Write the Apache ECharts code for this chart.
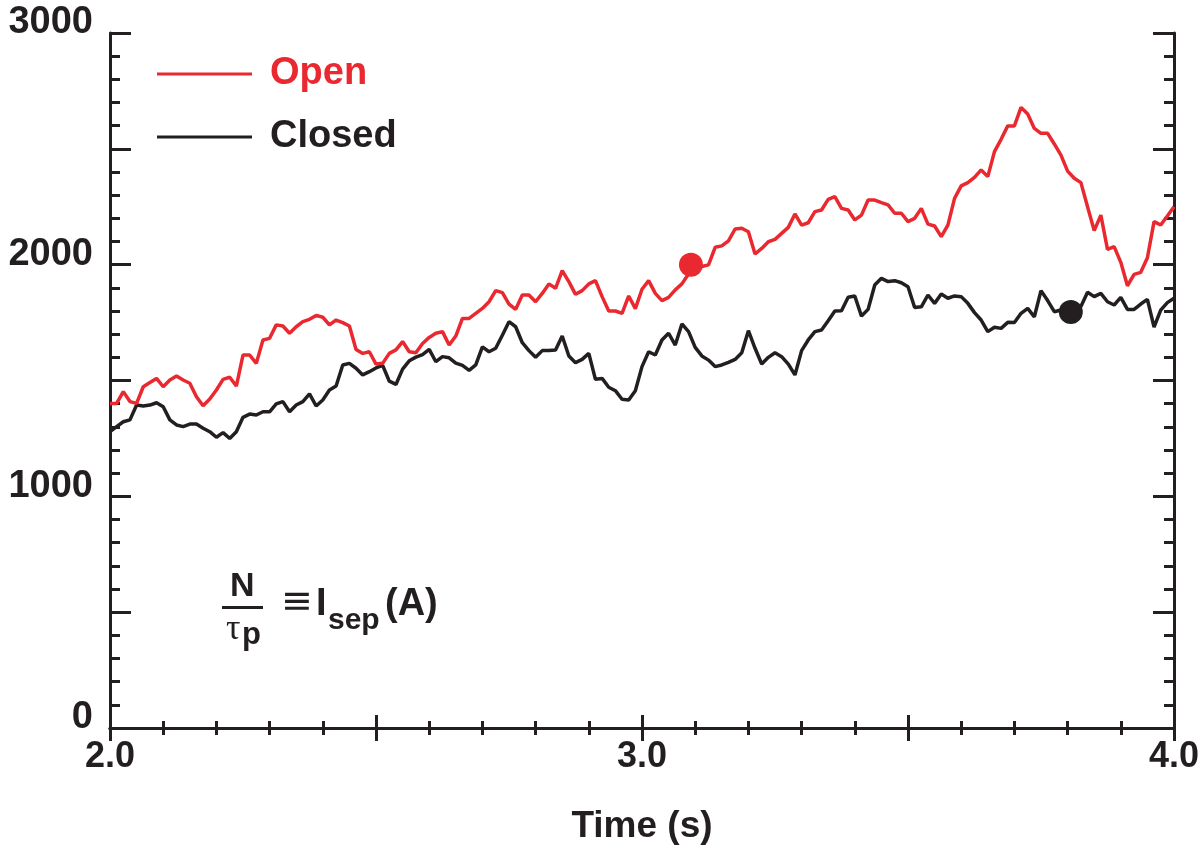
<!DOCTYPE html>
<html>
<head>
<meta charset="utf-8">
<script src="https://cdn.jsdelivr.net/npm/echarts@6/dist/echarts.min.js"></script>
<style>
  html, body { margin: 0; padding: 0; background: #ffffff; }
  #chart { width: 1198px; height: 847px; }
</style>
</head>
<body>
<div id="chart"></div>
<script>
// ---- data ----
const startTime = 2.0;      // s
const sampleStep = 0.0125;  // s between samples
const openValues = [
  1401, 1401, 1452, 1409, 1401, 1473, 1491, 1509, 1473, 1502, 1519, 1502, 1488, 1430, 1391, 1420, 1459, 1505, 1514, 1476,
  1610, 1610, 1574, 1675, 1682, 1740, 1735, 1704, 1732, 1754, 1764, 1781, 1773, 1740, 1761, 1750, 1735, 1634, 1617, 1624,
  1571, 1574, 1617, 1632, 1668, 1624, 1620, 1660, 1686, 1704, 1711, 1653, 1692, 1768, 1768, 1790, 1811, 1840, 1888, 1879,
  1830, 1807, 1869, 1869, 1840, 1876, 1917, 1898, 1974, 1927, 1872, 1888, 1917, 1931, 1862, 1800, 1800, 1790, 1865, 1810,
  1894, 1931, 1876, 1845, 1859, 1891, 1917, 1960, 1995, 1992, 1999, 2075, 2081, 2103, 2154, 2157, 2142, 2046, 2070, 2099,
  2109, 2135, 2161, 2219, 2171, 2181, 2229, 2236, 2282, 2294, 2243, 2236, 2193, 2214, 2279, 2279, 2268, 2258, 2222, 2222,
  2186, 2200, 2243, 2175, 2167, 2121, 2171, 2286, 2340, 2354, 2377, 2409, 2380, 2488, 2541, 2599, 2599, 2679, 2650, 2588,
  2567, 2567, 2521, 2473, 2404, 2373, 2354, 2250, 2147, 2214, 2066, 2078, 2010, 1909, 1958, 1967, 2030, 2186, 2171, 2210,
  2250
];
const closedValues = [
  1279, 1301, 1322, 1330, 1394, 1390, 1394, 1404, 1387, 1330, 1308, 1301, 1312, 1312, 1294, 1279, 1255, 1275, 1250, 1279,
  1341, 1355, 1351, 1365, 1365, 1399, 1409, 1365, 1394, 1409, 1442, 1390, 1416, 1459, 1476, 1567, 1574, 1553, 1524, 1538,
  1554, 1565, 1497, 1483, 1549, 1585, 1601, 1612, 1634, 1581, 1603, 1598, 1575, 1565, 1544, 1567, 1645, 1624, 1639, 1695,
  1754, 1732, 1663, 1629, 1600, 1629, 1629, 1632, 1692, 1606, 1577, 1591, 1617, 1505, 1509, 1471, 1456, 1419, 1416, 1456,
  1560, 1624, 1610, 1675, 1704, 1653, 1744, 1711, 1643, 1606, 1588, 1560, 1567, 1578, 1591, 1620, 1715, 1639, 1571, 1600,
  1620, 1603, 1571, 1524, 1629, 1675, 1711, 1718, 1758, 1800, 1801, 1859, 1865, 1778, 1807, 1912, 1941, 1927, 1931, 1922,
  1905, 1815, 1818, 1869, 1833, 1873, 1855, 1865, 1862, 1833, 1793, 1761, 1711, 1730, 1725, 1751, 1750, 1790, 1811, 1775,
  1888, 1845, 1797, 1804, 1797, 1804, 1819, 1881, 1862, 1876, 1840, 1826, 1859, 1807, 1807, 1830, 1850, 1730, 1804, 1836,
  1855
];
const openMarker = [[3.092, 2000]];
const closedMarker = [[3.806, 1796]];
const seriesNames = ['Open', 'Closed'];
const xTickLabels = ['2.0', '3.0', '4.0'];
const yTickLabels = ['0', '1000', '2000', '3000'];

// ---- style ----
const RED = '#EA2830';
const BLACK = '#231F20';
const FONT = '"Liberation Sans", Arial, sans-serif';

function pairs(values) {
  return values.map((v, i) => [startTime + i * sampleStep, v]);
}

const chart = echarts.init(document.getElementById('chart'), null, { renderer: 'canvas' });

const axisLineStyle = { show: true, lineStyle: { color: BLACK, width: 3 } };

function xAxisCfg(pos, showLabel) {
  return {
    type: 'value', position: pos, min: 2, max: 4, interval: 0.5,
    axisLine: axisLineStyle,
    axisTick: { show: true, inside: true, length: 13, lineStyle: { color: BLACK, width: 3 } },
    minorTick: { show: true, splitNumber: 5, length: 7, lineStyle: { color: BLACK, width: 3 } },
    splitLine: { show: false },
    axisLabel: {
      show: showLabel, margin: 11,
      color: BLACK, fontFamily: FONT, fontWeight: 'bold', fontSize: 36,
      formatter: function (v) {
        const s = v.toFixed(1);
        return xTickLabels.indexOf(s) >= 0 ? s : '';
      }
    },
    name: showLabel ? 'Time (s)' : '',
    nameLocation: 'middle', nameGap: 80,
    nameTextStyle: { color: BLACK, fontFamily: FONT, fontWeight: 'bold', fontSize: 37 }
  };
}
function yAxisCfg(pos, showLabel) {
  return {
    type: 'value', position: pos, min: 0, max: 3000, interval: 500,
    axisLine: axisLineStyle,
    axisTick: { show: true, inside: true, length: 21, lineStyle: { color: BLACK, width: 3 } },
    minorTick: { show: true, splitNumber: 5, length: 10, lineStyle: { color: BLACK, width: 3 } },
    splitLine: { show: false },
    axisLabel: {
      show: showLabel, margin: 17,
      color: BLACK, fontFamily: FONT, fontWeight: 'bold', fontSize: 38,
      verticalAlign: 'bottom', lineHeight: 20,
      formatter: function (v) {
        const s = String(v);
        return yTickLabels.indexOf(s) >= 0 ? s : '';
      }
    }
  };
}

const option = {
  backgroundColor: '#ffffff',
  animation: false,
  grid: { left: 110, right: 24, top: 33, bottom: 119, containLabel: false, outerBoundsMode: 'none' },
  xAxis: [xAxisCfg('bottom', true), xAxisCfg('top', false)],
  yAxis: [yAxisCfg('left', true), yAxisCfg('right', false)],
  legend: {
    orient: 'vertical', left: 157, top: 53, padding: 0,
    itemWidth: 95, itemHeight: 3, itemGap: 21, icon: 'rect',
    textStyle: { fontFamily: FONT, fontWeight: 'bold', fontSize: 38, lineHeight: 42, padding: [0, 0, 0, 13] },
    data: [
      { name: seriesNames[0], textStyle: { color: RED } },
      { name: seriesNames[1], textStyle: { color: BLACK } }
    ]
  },
  series: [
    {
      name: seriesNames[0], type: 'line', data: pairs(openValues),
      showSymbol: false, symbol: 'none', smooth: false,
      lineStyle: { color: RED, width: 3.5 }, itemStyle: { color: RED }, z: 3
    },
    {
      name: seriesNames[1], type: 'line', data: pairs(closedValues),
      showSymbol: false, symbol: 'none', smooth: false,
      lineStyle: { color: BLACK, width: 3.5 }, itemStyle: { color: BLACK }, z: 2
    },
    {
      name: 'openMarker', type: 'scatter', data: openMarker,
      symbol: 'circle', symbolSize: 24, itemStyle: { color: RED, opacity: 1 }, z: 4
    },
    {
      name: 'closedMarker', type: 'scatter', data: closedMarker,
      symbol: 'circle', symbolSize: 24, itemStyle: { color: BLACK, opacity: 1 }, z: 4
    }
  ],
  graphic: [
    { type: 'text', left: 230, top: 570, style: { text: 'N', font: 'bold 34px ' + FONT, fill: BLACK } },
    { type: 'rect', shape: { x: 222, y: 606, width: 41, height: 3 }, style: { fill: BLACK } },
    { type: 'text', left: 226, top: 612, style: { text: 'τ', font: '36px "Liberation Serif", "DejaVu Serif", serif', fill: BLACK } },
    { type: 'text', left: 242, top: 620, style: { text: 'p', font: 'bold 31px ' + FONT, fill: BLACK } },
    { type: 'text', left: 281, top: 584, style: { text: '≡', font: '38px "DejaVu Sans", sans-serif', fill: BLACK } },
    { type: 'text', left: 316, top: 586, style: { text: 'I', font: 'bold 38px ' + FONT, fill: BLACK } },
    { type: 'text', left: 328, top: 606, style: { text: 'sep', font: 'bold 30px ' + FONT, fill: BLACK } },
    { type: 'text', left: 385, top: 586, style: { text: '(A)', font: 'bold 38px ' + FONT, fill: BLACK } }
  ]
};

chart.setOption(option);
</script>
</body>
</html>
